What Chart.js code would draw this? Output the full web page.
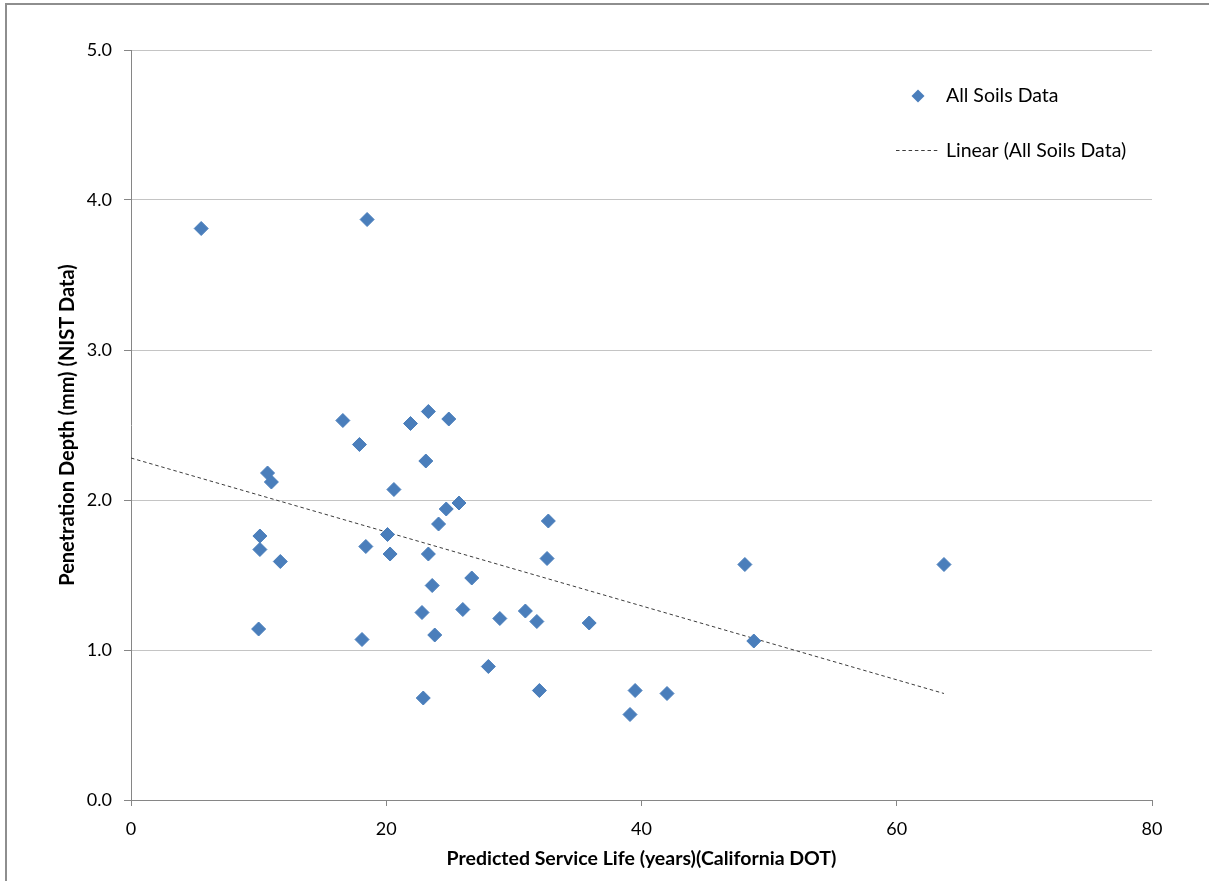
<!DOCTYPE html>
<html>
<head>
<meta charset="utf-8">
<title>Penetration Depth vs Predicted Service Life</title>
<script src="https://cdn.jsdelivr.net/npm/chart.js@4/dist/chart.umd.min.js"></script>
<style>
  html, body { margin: 0; padding: 0; background: #ffffff; overflow: hidden; }
  #wrap { position: relative; width: 1209px; height: 881px; }
  #frame {
    position: absolute; left: 5px; top: 3px; width: 1400px; height: 1100px;
    border: 2px solid #8e8e8e; box-sizing: border-box; pointer-events: none;
  }
  canvas { position: absolute; left: 0; top: 0; }
</style>
</head>
<body>
<div id="wrap">
  <canvas id="chart" width="1209" height="881"></canvas>
  <div id="frame"></div>
</div>
<script>
// Predicted service life (years), California DOT method
const serviceLife = [
  5.5, 18.5, 16.6, 17.9, 21.9, 23.3, 24.9, 23.1, 10.7, 11.0,
  20.6, 25.7, 24.7, 24.1, 32.7, 10.1, 20.1, 10.1, 18.4, 20.3,
  23.3, 32.6, 11.7, 48.1, 63.7, 26.7, 23.6, 26.0, 30.9, 22.8,
  28.9, 31.8, 35.9, 10.0, 23.8, 18.1, 48.8, 28.0, 32.0, 39.5,
  42.0, 22.9, 39.1
];

// Measured penetration depth (mm), NIST data
const penetrationDepth = [
  3.81, 3.87, 2.53, 2.37, 2.51, 2.59, 2.54, 2.26, 2.18, 2.12,
  2.07, 1.98, 1.94, 1.84, 1.86, 1.76, 1.77, 1.67, 1.69, 1.64,
  1.64, 1.61, 1.59, 1.57, 1.57, 1.48, 1.43, 1.27, 1.26, 1.25,
  1.21, 1.19, 1.18, 1.14, 1.10, 1.07, 1.06, 0.89, 0.73, 0.73,
  0.71, 0.68, 0.57
];

// Linear trend line (All Soils Data): endpoints
const trendX = [0, 63.7];
const trendY = [2.28, 0.71];

// Axis ticks
const xTicks = [0, 20, 40, 60, 80];
const yTicks = [0.0, 1.0, 2.0, 3.0, 4.0, 5.0];

const seriesName = 'All Soils Data';
const trendName = 'Linear (All Soils Data)';
const xTitle = 'Predicted Service Life (years)(California DOT)';
const yTitle = 'Penetration Depth (mm) (NIST Data)';

const markerColor = '#4A7EBB';
const trendColor = '#3c3c3c';
const trendDash = [3.5, 2.8];
const fontFamily = 'Lato, "Open Sans", "Liberation Sans", sans-serif';

const points = serviceLife.map((x, i) => ({ x: x, y: penetrationDepth[i] }));
const trendPoints = trendX.map((x, i) => ({ x: x, y: trendY[i] }));

// Legend drawn inside the plot area, upper right
const insideLegend = {
  id: 'insideLegend',
  afterDraw(chart) {
    const ctx = chart.ctx;
    const area = chart.chartArea;
    ctx.save();
    // marker entry
    const mx = area.right - 234, my = area.top + 46, r = 6.5;
    ctx.fillStyle = markerColor;
    ctx.beginPath();
    ctx.moveTo(mx, my - r);
    ctx.lineTo(mx + r, my);
    ctx.lineTo(mx, my + r);
    ctx.lineTo(mx - r, my);
    ctx.closePath();
    ctx.fill();
    // line entry
    const ly = area.top + 100.5;
    ctx.strokeStyle = trendColor;
    ctx.lineWidth = 1;
    ctx.setLineDash(trendDash);
    ctx.beginPath();
    ctx.moveTo(area.right - 256, ly);
    ctx.lineTo(area.right - 212, ly);
    ctx.stroke();
    ctx.setLineDash([]);
    // labels
    ctx.fillStyle = '#000000';
    ctx.font = '19.5px ' + fontFamily;
    ctx.textBaseline = 'middle';
    ctx.textAlign = 'left';
    ctx.fillText(seriesName, area.right - 206, my);
    ctx.fillText(trendName, area.right - 206, ly);
    ctx.restore();
  }
};

new Chart(document.getElementById('chart'), {
  type: 'scatter',
  data: {
    datasets: [
      {
        label: seriesName,
        data: points,
        pointStyle: 'rectRot',
        pointRadius: 7,
        pointHoverRadius: 7,
        backgroundColor: markerColor,
        borderColor: markerColor,
        borderWidth: 1,
        order: 1
      },
      {
        label: trendName,
        data: trendPoints,
        showLine: true,
        pointRadius: 0,
        pointHoverRadius: 0,
        borderColor: trendColor,
        borderWidth: 1,
        borderDash: trendDash,
        fill: false,
        order: 2
      }
    ]
  },
  options: {
    responsive: false,
    devicePixelRatio: 1,
    animation: false,
    events: [],
    layout: { padding: { left: 0, top: 50, right: 57, bottom: 0 } },
    plugins: {
      legend: { display: false },
      tooltip: { enabled: false }
    },
    scales: {
      x: {
        type: 'linear',
        min: xTicks[0],
        max: xTicks[xTicks.length - 1],
        afterBuildTicks(scale) { scale.ticks = xTicks.map(v => ({ value: v })); },
        afterFit(scale) { scale.height = 81; },
        border: { display: true, color: '#868686', width: 1 },
        grid: {
          drawOnChartArea: false,
          drawTicks: true,
          tickLength: 6,
          tickColor: '#868686'
        },
        ticks: {
          color: '#000000',
          padding: 12,
          font: { family: fontFamily, size: 18 },
          callback: v => String(v)
        },
        title: {
          display: true,
          text: xTitle,
          color: '#000000',
          font: { family: fontFamily, size: 19.5, weight: 'bold' },
          padding: { top: 11, bottom: 11 }
        }
      },
      y: {
        type: 'linear',
        min: yTicks[0],
        max: yTicks[yTicks.length - 1],
        afterBuildTicks(scale) { scale.ticks = yTicks.map(v => ({ value: v })); },
        afterFit(scale) { scale.width = 131; },
        border: { display: true, color: '#868686', width: 1 },
        grid: {
          color: '#c4c4c4',
          lineWidth: 1,
          drawTicks: true,
          tickLength: 7,
          tickColor: '#868686'
        },
        ticks: {
          color: '#000000',
          padding: 12,
          font: { family: fontFamily, size: 18 },
          callback: v => Number(v).toFixed(1)
        },
        title: {
          display: true,
          text: yTitle,
          color: '#000000',
          font: { family: fontFamily, size: 20, weight: 'bold' },
          padding: { top: 56, bottom: 56 }
        }
      }
    }
  },
  plugins: [insideLegend]
});
</script>
</body>
</html>
